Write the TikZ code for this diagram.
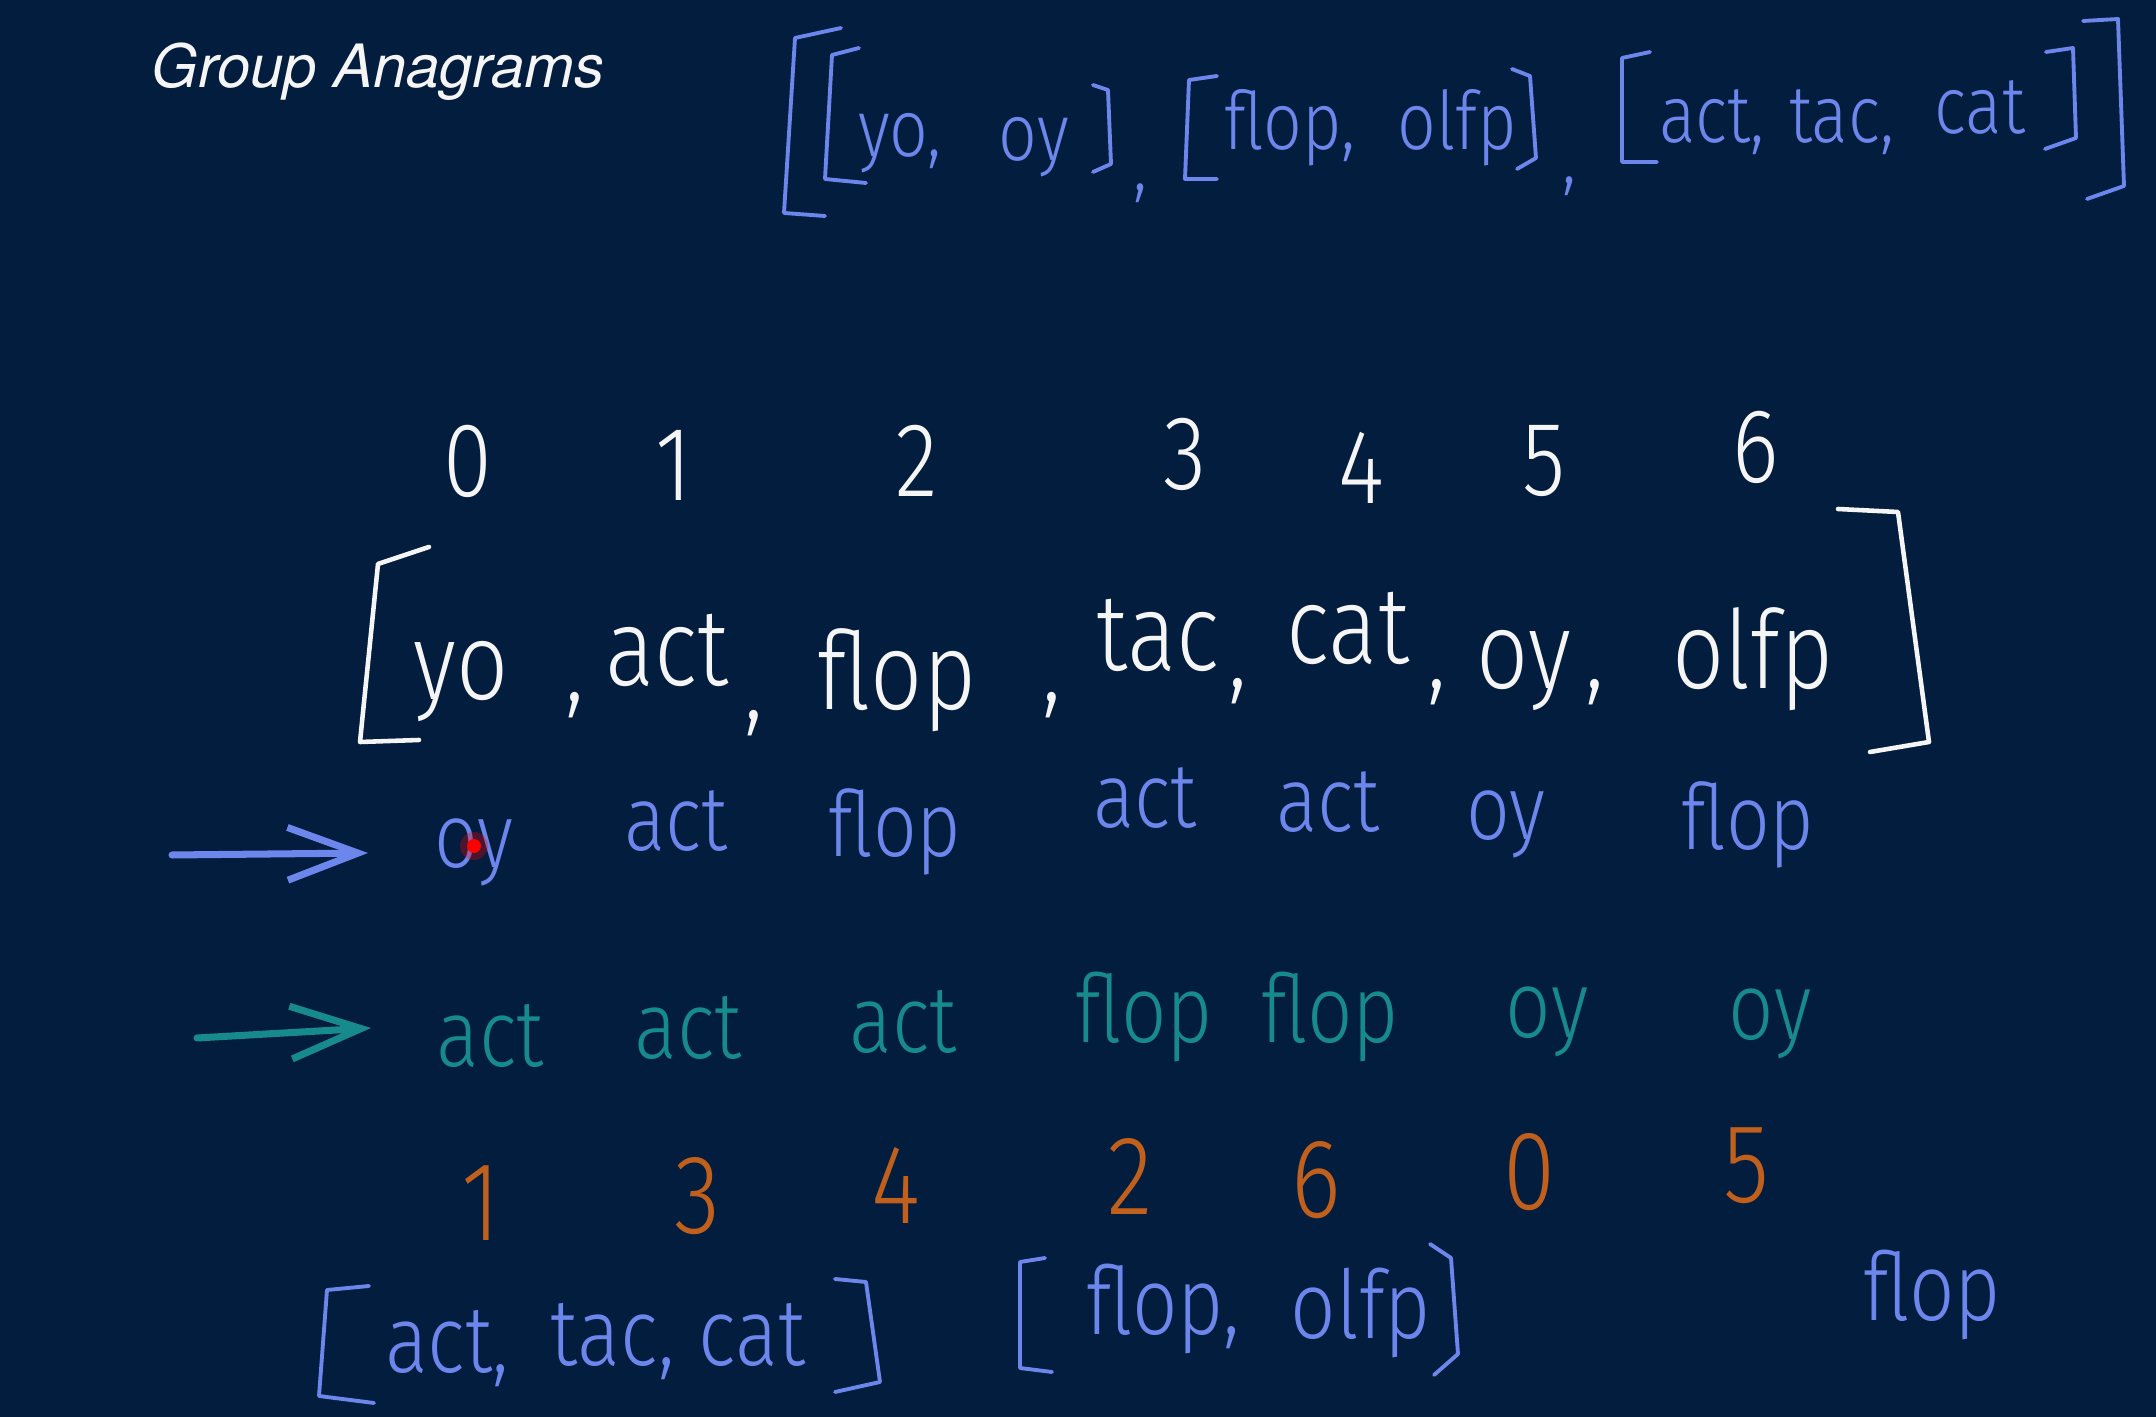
\documentclass[tikz,border=0pt]{standalone}
\usepackage{fontspec}
\setsansfont{TeX Gyre Heros}
\newfontfamily\handfont{Fira Sans}[UprightFont=* Light, FakeStretch=0.84]
\usepackage{tikz}
\usetikzlibrary{arrows.meta}

\definecolor{board}{RGB}{2,29,62}
\definecolor{inkwhite}{RGB}{245,245,245}
\definecolor{inkblue}{RGB}{108,134,236}
\definecolor{inkteal}{RGB}{22,138,140}
\definecolor{inkorange}{RGB}{192,96,28}

\tikzset{
  wword/.style={anchor=mid, yshift=-6pt, text=inkwhite, font=\handfont\fontsize{31}{37}\selectfont},
  wcomma/.style={anchor=mid, text=inkwhite, font=\handfont\fontsize{31}{37}\selectfont},
  wdigit/.style={text=inkwhite, font=\handfont\fontsize{30}{36}\selectfont},
  bword/.style={anchor=mid, yshift=-6pt, text=inkblue, font=\handfont\fontsize{26}{31}\selectfont},
  rword/.style={anchor=mid, yshift=-5pt, text=inkblue, font=\handfont\fontsize{23}{27}\selectfont},
  tword/.style={anchor=mid, yshift=-6pt, text=inkteal, font=\handfont\fontsize{27}{32}\selectfont},
  odigit/.style={text=inkorange, font=\handfont\fontsize{32}{38}\selectfont},
  brkw/.style={draw=inkwhite, line width=1.3pt, line cap=round, line join=round},
  brkb/.style={draw=inkblue, line width=1.1pt, line cap=round, line join=round},
  handarrow/.style={line width=2pt, line cap=round, -{Straight Barb[length=20pt, width=15pt]}}
}

\begin{document}
\begin{tikzpicture}[x=0.1mm, y=-0.1mm, every node/.style={inner sep=0pt}]
  \fill[board] (0,0) rectangle (2156,1417);
  \useasboundingbox (0,0) rectangle (2156,1417);

  \node[anchor=base west, text=inkwhite, font=\sffamily\itshape\fontsize{17}{20}\selectfont] (title) at (151,88) {Group Anagrams};

  % result written at the top
  \draw[brkb] (841,28) -- (795,38) -- (784,213) -- (825,216);
  \draw[brkb] (2083,21) -- (2118,19) -- (2124,186) -- (2087,199);
  \draw[brkb] (859,48) -- (832,55) -- (825,179) -- (866,183);
  \node[rword] (ryo) at (900,131) {yo,};
  \node[rword] (roy) at (1034,135) {oy};
  \draw[brkb] (1093,85) -- (1108,90) -- (1111,164) -- (1093,172);
  \node[rword] (rc1) at (1141,165) {,};
  \draw[brkb] (1217,76) -- (1189,80) -- (1185,179) -- (1217,179);
  \node[rword] (rflop) at (1290,124) {flop,};
  \node[rword] (rolfp) at (1457,124) {olfp};
  \draw[brkb] (1512,69) -- (1530,76) -- (1536,158) -- (1517,169);
  \node[rword] (rc2) at (1570,158) {,};
  \draw[brkb] (1650,52) -- (1622,58) -- (1622,162) -- (1657,162);
  \node[rword] (ract) at (1712,117) {act,};
  \node[rword] (rtac) at (1842,117) {tac,};
  \node[rword] (rcat) at (1980,108) {cat};
  \draw[brkb] (2046,52) -- (2073,48) -- (2076,138) -- (2045,149);

  % indices
  \node[wdigit] (i0) at (468,461) {0};
  \node[wdigit] (i1) at (674,465) {1};
  \node[wdigit] (i2) at (917,461) {2};
  \node[wdigit] (i3) at (1185,454) {3};
  \node[wdigit] (i4) at (1361,468) {4};
  \node[wdigit] (i5) at (1544,461) {5};
  \node[wdigit] (i6) at (1756,447) {6};

  % input array
  \draw[brkw] (429,547) -- (378,564) -- (360,742) -- (419,740);
  \draw[brkw] (1838,509) -- (1898,512) -- (1929,742) -- (1870,752);
  \node[wword] (w0) at (461,671) {yo};
  \node[wcomma] (wc0) at (575,694) {,};
  \node[wword] (w1) at (667,657) {act};
  \node[wcomma] (wc1) at (754,712) {,};
  \node[wword] (w2) at (897,681) {flop};
  \node[wcomma] (wc2) at (1052,694) {,};
  \node[wword] (w3) at (1158,642) {tac};
  \node[wcomma] (wc3) at (1238,680) {,};
  \node[wword] (w4) at (1348,635) {cat};
  \node[wcomma] (wc4) at (1437,681) {,};
  \node[wword] (w5) at (1524,660) {oy};
  \node[wcomma] (wc5) at (1595,681) {,};
  \node[wword] (w6) at (1753,660) {olfp};

  % sorted words
  \coordinate (bfrom) at (172,855);
  \coordinate (bto) at (368,853);
  \draw[handarrow, inkblue] (bfrom) -- (bto);
  \node[bword] (s0) at (474,839) {oy};
  \node[bword] (s1) at (676,822) {act};
  \node[bword] (s2) at (895,828) {flop};
  \node[bword] (s3) at (1145,799) {act};
  \node[bword] (s4) at (1328,803) {act};
  \node[bword] (s5) at (1506,811) {oy};
  \node[bword] (s6) at (1748,821) {flop};
  \fill[red, opacity=0.3] (474,846) circle (14);
  \fill[red] (474,846) circle (7);

  % sorted array
  \coordinate (tfrom) at (197,1038);
  \coordinate (tto) at (371,1028);
  \draw[handarrow, inkteal] (tfrom) -- (tto);
  \node[tword] (t0) at (490,1038) {act};
  \node[tword] (t1) at (688,1030) {act};
  \node[tword] (t2) at (903,1024) {act};
  \node[tword] (t3) at (1144,1014) {flop};
  \node[tword] (t4) at (1330,1014) {flop};
  \node[tword] (t5) at (1547,1009) {oy};
  \node[tword] (t6) at (1770,1011) {oy};

  % original indices
  \node[odigit] (o0) at (481,1203) {1};
  \node[odigit] (o1) at (697,1196) {3};
  \node[odigit] (o2) at (896,1185) {4};
  \node[odigit] (o3) at (1130,1176) {2};
  \node[odigit] (o4) at (1316,1180) {6};
  \node[odigit] (o5) at (1529,1172) {0};
  \node[odigit] (o6) at (1746,1166) {5};

  % groups
  \draw[brkb] (369,1286) -- (327,1290) -- (319,1396) -- (374,1403);
  \node[tword, text=inkblue] (g0) at (447,1344) {act,};
  \node[tword, text=inkblue] (g1) at (613,1337) {tac,};
  \node[tword, text=inkblue] (g2) at (752,1337) {cat};
  \draw[brkb] (835,1279) -- (866,1282) -- (880,1382) -- (835,1392);
  \draw[brkb] (1045,1258) -- (1020,1262) -- (1020,1368) -- (1052,1372);
  \node[tword, text=inkblue] (g3) at (1163,1306) {flop,};
  \node[tword, text=inkblue] (g4) at (1361,1310) {olfp};
  \draw[brkb] (1430,1244) -- (1451,1258) -- (1458,1354) -- (1434,1375);
  \node[tword, text=inkblue] (g5) at (1932,1292) {flop};
\end{tikzpicture}
\end{document}
